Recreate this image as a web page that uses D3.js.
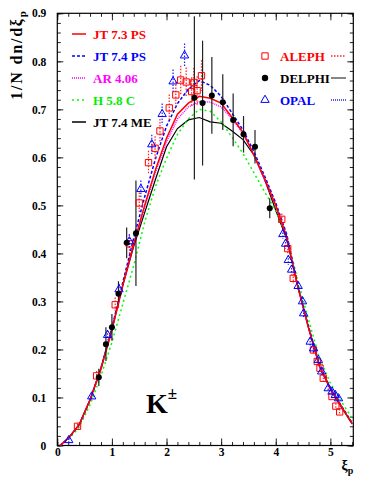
<!DOCTYPE html>
<html>
<head>
<meta charset="utf-8">
<script src="https://cdn.jsdelivr.net/npm/d3@7"></script>
<style>
  body { margin: 0; background: #fff; }
  svg { display: block; }
  text { font-family: "Liberation Serif", "Times New Roman", serif; font-weight: bold; }
</style>
</head>
<body>
<div id="app"></div>
<script>
// model curves, sampled on a common xi grid
const xiGrid = [0.05, 0.2, 0.4, 0.6, 0.8, 1.0, 1.2, 1.4, 1.6, 1.8, 2.0, 2.2, 2.4, 2.6, 2.8, 3.0, 3.2, 3.4, 3.6, 3.8, 4.0, 4.2, 4.4, 4.6, 4.8, 5.0, 5.2, 5.4]
const jt73ps = [0, 0.015, 0.043, 0.095, 0.16, 0.24, 0.335, 0.42, 0.50, 0.575, 0.64, 0.69, 0.713, 0.727, 0.723, 0.713, 0.683, 0.652, 0.605, 0.555, 0.50, 0.435, 0.332, 0.245, 0.165, 0.118, 0.082, 0.045]
const jt74ps = [0, 0.014, 0.042, 0.094, 0.16, 0.245, 0.34, 0.432, 0.518, 0.598, 0.665, 0.712, 0.742, 0.76, 0.75, 0.727, 0.692, 0.657, 0.612, 0.56, 0.505, 0.44, 0.335, 0.248, 0.168, 0.12, 0.083, 0.047]
const ar406 = [0, 0.015, 0.043, 0.095, 0.16, 0.24, 0.333, 0.418, 0.497, 0.57, 0.632, 0.68, 0.705, 0.716, 0.715, 0.705, 0.68, 0.65, 0.605, 0.552, 0.498, 0.433, 0.333, 0.246, 0.166, 0.118, 0.082, 0.046]
const h58c = [0, 0.012, 0.038, 0.085, 0.145, 0.215, 0.295, 0.375, 0.465, 0.54, 0.598, 0.648, 0.68, 0.70, 0.696, 0.674, 0.642, 0.608, 0.568, 0.527, 0.49, 0.437, 0.345, 0.262, 0.182, 0.13, 0.092, 0.056]
const jt74me = [0, 0.015, 0.044, 0.096, 0.162, 0.243, 0.333, 0.415, 0.485, 0.555, 0.622, 0.66, 0.678, 0.683, 0.674, 0.671, 0.655, 0.637, 0.605, 0.553, 0.49, 0.43, 0.333, 0.245, 0.165, 0.117, 0.08, 0.045]

// measurements
const alephXi = [0.37, 0.72, 1.06, 1.32, 1.50, 1.67, 1.79, 1.88, 2.05, 2.17, 2.26, 2.36, 2.46, 2.50, 2.56, 2.64, 4.11, 4.22, 4.32, 4.69, 4.76, 4.81, 4.87, 5.03, 5.10, 5.17]
const alephVal = [0.04, 0.145, 0.293, 0.42, 0.505, 0.589, 0.619, 0.655, 0.703, 0.73, 0.761, 0.757, 0.737, 0.756, 0.739, 0.77, 0.471, 0.41, 0.348, 0.199, 0.175, 0.161, 0.14, 0.102, 0.082, 0.07]
const alephErr = [0.006, 0.01, 0.015, 0.02, 0.022, 0.025, 0.025, 0.025, 0.028, 0.028, 0.03, 0.03, 0.03, 0.03, 0.03, 0.032, 0.012, 0.012, 0.01, 0.008, 0.008, 0.008, 0.008, 0.006, 0.006, 0.006]

const delphiXi = [0.76, 0.89, 1.00, 1.12, 1.27, 1.44, 2.51, 2.66, 2.83, 3.03, 3.22, 3.41, 3.62, 3.89]
const delphiVal = [0.142, 0.211, 0.246, 0.316, 0.422, 0.442, 0.724, 0.713, 0.729, 0.715, 0.678, 0.648, 0.622, 0.494]
const delphiErr = [0.018, 0.035, 0.028, 0.026, 0.032, 0.11, 0.17, 0.13, 0.08, 0.058, 0.055, 0.038, 0.035, 0.021]

const opalXi = [0.21, 0.63, 0.92, 1.13, 1.32, 1.53, 1.73, 1.92, 2.12, 2.33, 4.13, 4.18, 4.23, 4.29, 4.41, 4.49, 4.51, 4.63, 4.69, 4.78, 4.84, 4.96, 5.03, 5.09, 5.15]
const opalVal = [0.011, 0.102, 0.23, 0.325, 0.425, 0.534, 0.627, 0.69, 0.758, 0.812, 0.44, 0.42, 0.386, 0.366, 0.332, 0.3, 0.275, 0.216, 0.202, 0.178, 0.154, 0.119, 0.112, 0.105, 0.098]
const opalErr = [0.004, 0.006, 0.01, 0.012, 0.015, 0.018, 0.02, 0.022, 0.025, 0.025, 0.01, 0.01, 0.01, 0.01, 0.008, 0.008, 0.008, 0.008, 0.008, 0.007, 0.007, 0.006, 0.006, 0.006, 0.006]

const xMajor = [0, 1, 2, 3, 4, 5]
const yMajor = [0, 0.1, 0.2, 0.3, 0.4, 0.5, 0.6, 0.7, 0.8, 0.9]

const W = 382, H = 494
const pL = 57.3, pR = 353.3, pT = 13.3, pB = 445.5

const svg = d3.select('#app').append('svg').attr('width', W).attr('height', H)

const x = d3.scaleLinear().domain([0, 5.42]).range([pL, pR])
const y = d3.scaleLinear().domain([0, 0.9]).range([pB, pT])

const xMinor = d3.range(0, 5.41, 0.2)
const yMinor = d3.range(0, 0.901, 0.02)

// axes, ticks pointing inwards
function ticks (axis, pos, values, size, labels) {
  const g = svg.append('g').attr('transform', pos)
    .call(axis.tickValues(values).tickSizeInner(-size).tickSizeOuter(0)
      .tickFormat(labels ? labels : ''))
  g.select('.domain').remove()
  g.selectAll('line').attr('stroke', '#222').attr('stroke-width', 1)
  return g
}
ticks(d3.axisBottom(x), `translate(0,${pB})`, xMinor, 3.5)
ticks(d3.axisTop(x), `translate(0,${pT})`, xMinor, 3.5)
ticks(d3.axisLeft(y), `translate(${pL},0)`, yMinor, 3.5)
ticks(d3.axisRight(y), `translate(${pR},0)`, yMinor, 3.5)

const gx = ticks(d3.axisBottom(x).tickPadding(2), `translate(0,${pB})`, xMajor, 7, d3.format('d'))
gx.selectAll('text').attr('font-size', 11.5).attr('fill', '#000')
  .attr('font-family', '"Liberation Serif", serif').attr('font-weight', 'bold')
ticks(d3.axisTop(x), `translate(0,${pT})`, xMajor, 7)
const gy = ticks(d3.axisLeft(y).tickPadding(11), `translate(${pL},0)`, yMajor, 6, (d) => d === 0 ? '0' : d3.format('.1f')(d))
gy.selectAll('text').attr('font-size', 11.5).attr('fill', '#000')
  .attr('font-family', '"Liberation Serif", serif').attr('font-weight', 'bold')
ticks(d3.axisRight(y), `translate(${pR},0)`, yMajor, 6)

svg.append('rect')
  .attr('x', pL).attr('y', pT)
  .attr('width', pR - pL).attr('height', pB - pT)
  .attr('fill', 'none').attr('stroke', '#000').attr('stroke-width', 1.2)

// axis titles
const yt = svg.append('text')
  .attr('transform', `translate(22,${pT - 4}) rotate(-90)`)
  .attr('text-anchor', 'end').attr('font-size', 16)
  .attr('letter-spacing', 1.8)
yt.append('tspan').text('1/N dn/dξ')
yt.append('tspan').attr('font-size', 11).attr('dy', 4).text('p')

const xt = svg.append('text')
  .attr('x', pR).attr('y', 470)
  .attr('text-anchor', 'end').attr('font-size', 14)
xt.append('tspan').text('ξ')
xt.append('tspan').attr('font-size', 10).attr('dy', 4).text('p')

const kl = svg.append('text').attr('x', 146).attr('y', 413).attr('font-size', 28)
kl.append('tspan').text('K')
kl.append('tspan').attr('font-size', 17).attr('dy', -14).text('±')

// curves
const line = d3.line().x((d) => x(d[0])).y((d) => y(d[1]))
const curves = [
  { name: 'JT 7.3 PS', vals: jt73ps, color: '#ff0000', dash: null, w: 1.5 },
  { name: 'JT 7.4 PS', vals: jt74ps, color: '#0000ff', dash: '3,2', w: 1.5 },
  { name: 'AR 4.06', vals: ar406, color: '#ff00ff', dash: '1,1', w: 1.5 },
  { name: 'H 5.8 C', vals: h58c, color: '#00ff00', dash: '2,3', w: 1.5 },
  { name: 'JT 7.4 ME', vals: jt74me, color: '#000000', dash: null, w: 1.2 },
]
const plot = svg.append('g')
curves.slice().reverse().forEach((c) => {
  plot.append('path')
    .datum(xiGrid.map((xi, i) => [xi, c.vals[i]]))
    .attr('d', line)
    .attr('fill', 'none')
    .attr('stroke', c.color)
    .attr('stroke-width', c.w)
    .attr('stroke-dasharray', c.dash)
})

// error bars + markers
function errBars (xs, vs, es, color, dash, w) {
  plot.selectAll(null).data(xs).enter().append('line')
    .attr('x1', (d) => x(d)).attr('x2', (d) => x(d))
    .attr('y1', (d, i) => y(Math.min(0.9, vs[i] + es[i])))
    .attr('y2', (d, i) => y(vs[i] - es[i]))
    .attr('stroke', color).attr('stroke-width', w)
    .attr('stroke-dasharray', dash)
}
errBars(alephXi, alephVal, alephErr, '#ff2020', '1.5,1.5', 1.2)
errBars(opalXi, opalVal, opalErr, '#2020ff', '1.5,1.5', 1.2)
errBars(delphiXi, delphiVal, delphiErr, '#222', null, 1.2)

const sq = d3.symbol().type(d3.symbolSquare).size(40)
const tri = d3.symbol().type(d3.symbolTriangle).size(30)

plot.selectAll(null).data(alephXi).enter().append('path')
  .attr('d', sq)
  .attr('transform', (d, i) => `translate(${x(d)},${y(alephVal[i])})`)
  .attr('fill', 'none').attr('stroke', '#ff0000').attr('stroke-width', 1)

plot.selectAll(null).data(opalXi).enter().append('path')
  .attr('d', tri)
  .attr('transform', (d, i) => `translate(${x(d)},${y(opalVal[i])})`)
  .attr('fill', 'none').attr('stroke', '#0000ff').attr('stroke-width', 1)

plot.selectAll(null).data(delphiXi).enter().append('circle')
  .attr('cx', (d) => x(d)).attr('cy', (d, i) => y(delphiVal[i]))
  .attr('r', 3).attr('fill', '#000')

// left legend: models
const legY = [34, 56, 78, 100, 122]
curves.forEach((c, i) => {
  svg.append('line')
    .attr('x1', 72).attr('x2', 86).attr('y1', legY[i]).attr('y2', legY[i])
    .attr('stroke', c.color).attr('stroke-width', 1.5)
    .attr('stroke-dasharray', c.dash)
  svg.append('text')
    .attr('x', 93).attr('y', legY[i] + 4.5)
    .attr('font-size', 13)
    .attr('fill', c.color === '#00ff00' ? '#00ee00' : c.color)
    .text(c.name)
})

// right legend: experiments
const expts = [
  { name: 'ALEPH', color: '#ff0000', mk: 'sq', dash: '1.5,1.5', lc: '#ff2020' },
  { name: 'DELPHI', color: '#000000', mk: 'dot', dash: null, lc: '#444' },
  { name: 'OPAL', color: '#0000ff', mk: 'tri', dash: '1,1', lc: '#2020ff' },
]
const expY = [56, 78, 100]
expts.forEach((e, i) => {
  const yy = expY[i]
  if (e.mk === 'dot') {
    svg.append('circle').attr('cx', 265).attr('cy', yy).attr('r', 3.2).attr('fill', '#000')
  } else {
    svg.append('path')
      .attr('d', e.mk === 'sq' ? sq : tri)
      .attr('transform', `translate(265,${yy})`)
      .attr('fill', 'none').attr('stroke', e.color).attr('stroke-width', 1)
  }
  svg.append('text')
    .attr('x', 280).attr('y', yy + 4.5)
    .attr('font-size', 13).attr('fill', e.color)
    .text(e.name)
  svg.append('line')
    .attr('x1', 331).attr('x2', 346).attr('y1', yy).attr('y2', yy)
    .attr('stroke', e.lc).attr('stroke-width', 1.3)
    .attr('stroke-dasharray', e.dash)
})
</script>
</body>
</html>
